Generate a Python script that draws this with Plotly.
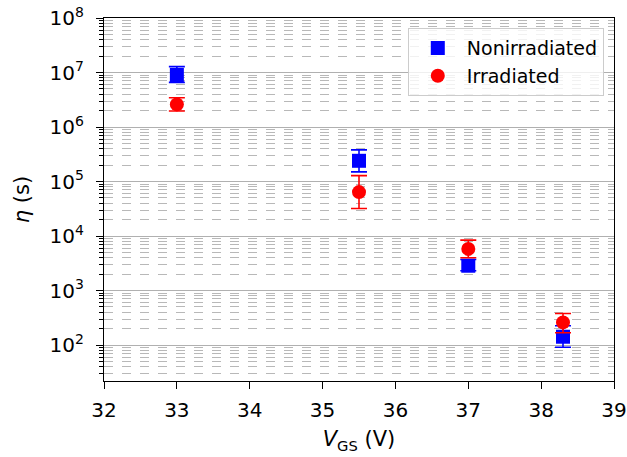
import plotly.graph_objects as go

vgs_non = [33.0, 35.5, 37.0, 38.3]
eta_non = [9.0e6, 2.4e5, 2.85e3, 1.42e2]
err_non_plus = [3.8e6, 1.4e5, 0.85e3, 0.84e2]
err_non_minus = [2.4e6, 0.9e5, 0.55e3, 0.51e2]

vgs_irr = [33.0, 35.5, 37.0, 38.3]
eta_irr = [2.6e6, 6.4e4, 5.8e3, 2.6e2]
err_irr_plus = [0.85e6, 6.4e4, 2.6e3, 1.2e2]
err_irr_minus = [0.63e6, 3.2e4, 1.8e3, 0.92e2]

ytick_vals = [1e2, 1e3, 1e4, 1e5, 1e6, 1e7, 1e8]
ytick_text = ["10<sup>2</sup>", "10<sup>3</sup>", "10<sup>4</sup>", "10<sup>5</sup>",
              "10<sup>6</sup>", "10<sup>7</sup>", "10<sup>8</sup>"]
xtick_vals = [32, 33, 34, 35, 36, 37, 38, 39]

fig = go.Figure()
fig.add_trace(go.Scatter(
    x=vgs_non, y=eta_non, mode="markers", name="Nonirradiated",
    marker=dict(symbol="square", size=14, color="#0000ff"),
    error_y=dict(type="data", symmetric=False, array=err_non_plus,
                 arrayminus=err_non_minus, color="#0000ff", thickness=1.6, width=8),
))
fig.add_trace(go.Scatter(
    x=vgs_irr, y=eta_irr, mode="markers", name="Irradiated",
    marker=dict(symbol="circle", size=14, color="#ff0000"),
    error_y=dict(type="data", symmetric=False, array=err_irr_plus,
                 arrayminus=err_irr_minus, color="#ff0000", thickness=1.6, width=8),
))

font = dict(family="DejaVu Sans", size=20, color="black")
fig.update_layout(
    width=627, height=457,
    margin=dict(l=104, r=13, t=18, b=76),
    plot_bgcolor="white", paper_bgcolor="white",
    font=font,
    showlegend=True,
    legend=dict(x=0.98, y=0.972, xanchor="right", yanchor="top",
                bordercolor="#cccccc", borderwidth=1, bgcolor="rgba(255,255,255,0.8)",
                font=dict(family="DejaVu Sans", size=19), tracegroupgap=0,
                itemwidth=48),
    xaxis=dict(
        range=[32, 39], tickvals=xtick_vals, showgrid=False, zeroline=False,
        showline=True, linecolor="black", linewidth=1.2, mirror=True,
        ticks="outside", ticklen=7, tickwidth=1.2, tickcolor="black", automargin=False,
        ticklabelstandoff=4,
        title=dict(text="<i>V</i><sub>GS</sub> (V)", font=dict(size=21), standoff=10),
    ),
    yaxis=dict(
        type="log", range=[1.34, 8], tickvals=ytick_vals, ticktext=ytick_text,
        showgrid=True, gridcolor="#b0b0b0", gridwidth=1, zeroline=False,
        showline=True, linecolor="black", linewidth=1.2, mirror=True,
        ticks="outside", ticklen=7, tickwidth=1.2, tickcolor="black", automargin=False,
        ticklabelstandoff=8,
        minor=dict(dtick="D1", ticks="outside", ticklen=4, tickcolor="black", showgrid=True,
                   gridcolor="#b8b8b8", griddash="dash", gridwidth=0.8),
        title=dict(text="<i>η</i> (s)", font=dict(size=21), standoff=14),
    ),
)
fig.write_html("out.html", config={"displayModeBar": False},
               post_script="document.body.style.margin='0px';")
